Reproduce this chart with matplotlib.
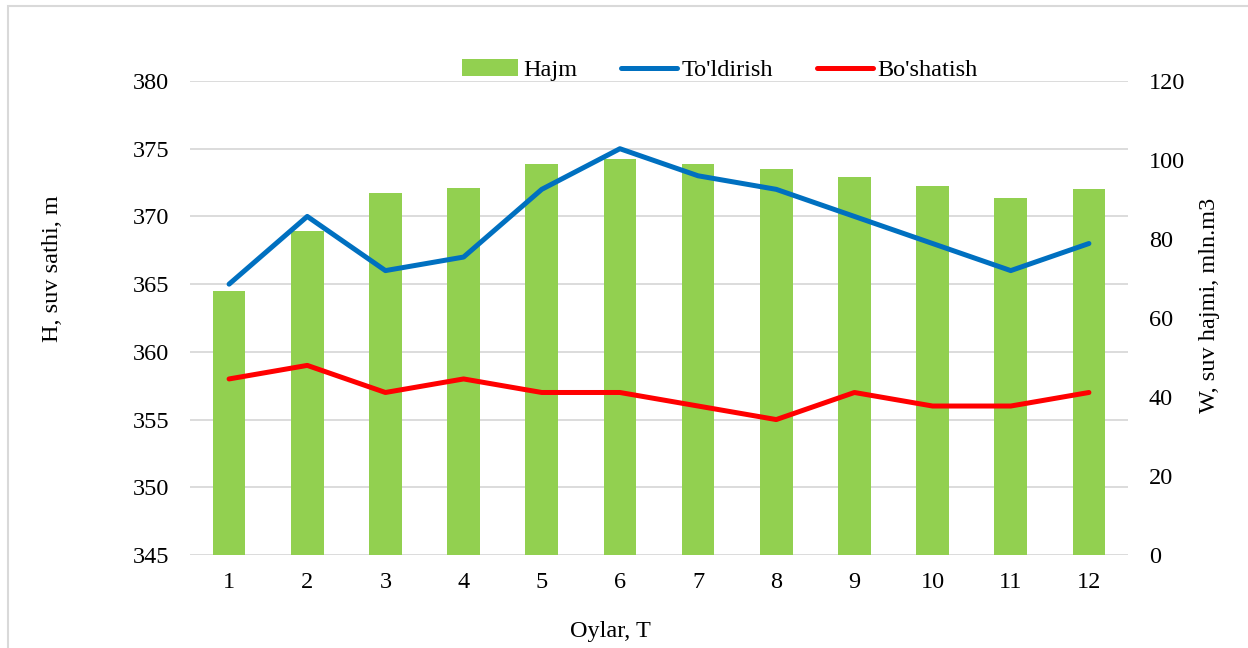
import matplotlib.pyplot as plt
from matplotlib.patches import Rectangle

months = [1, 2, 3, 4, 5, 6, 7, 8, 9, 10, 11, 12]
hajm = [66.9, 82.0, 91.7, 92.9, 99.0, 100.2, 99.0, 97.7, 95.6, 93.4, 90.3, 92.6]
toldirish = [365, 370, 366, 367, 372, 375, 373, 372, 370, 368, 366, 368]
boshatish = [358, 359, 357, 358, 357, 357, 356, 355, 357, 356, 356, 357]
left_ticks = [345, 350, 355, 360, 365, 370, 375, 380]
right_ticks = [0, 20, 40, 60, 80, 100, 120]

plt.rcParams["font.family"] = ["Liberation Serif", "DejaVu Serif"]
fs = 17.5

fig = plt.figure(figsize=(12.48, 6.48), dpi=100)
ax = fig.add_axes([190 / 1248, 1 - 555 / 648, 938 / 1248, 474 / 648])
ax2 = ax.twinx()

# bars on the right axis, drawn behind the lines
ax2.set_zorder(1)
ax.set_zorder(2)
ax.patch.set_visible(False)

bars = ax2.bar(months, hajm, width=0.42, color="#92D050", label="Hajm", zorder=2)
ax2.set_ylim(0, 120)
ax2.set_yticks(right_ticks)

l1, = ax.plot(months, toldirish, color="#0070C0", lw=3.6, solid_capstyle="round",
              solid_joinstyle="round", label="To'ldirish")
l2, = ax.plot(months, boshatish, color="#FF0000", lw=3.6, solid_capstyle="round",
              solid_joinstyle="round", label="Bo'shatish")
ax.set_ylim(345, 380)
ax.set_yticks(left_ticks)
ax.set_xlim(0.5, 12.5)
ax.set_xticks(months)

# gridlines follow the left axis but sit behind the bars
for y in left_ticks:
    ax2.plot([0, 1], [y, y], transform=ax.get_yaxis_transform(),
             color="#D9D9D9", lw=1.3, zorder=0)

for a in (ax, ax2):
    for s in a.spines.values():
        s.set_visible(False)
    a.tick_params(length=0, labelsize=fs, pad=15)
ax.tick_params(axis="x", pad=12)

fig.text(53 / 1248, 1 - 269 / 648, "H, suv sathi, m", rotation=90, ha="center",
         va="center", fontsize=fs)
fig.text(1210 / 1248, 1 - 305 / 648, "W, suv hajmi, mln.m3", rotation=90, ha="center",
         va="center", fontsize=fs)
fig.text(610 / 1248, 1 - 632 / 648, "Oylar, T", ha="center", va="center", fontsize=fs)

fig.legend([bars, l1, l2], ["Hajm", "To'ldirish", "Bo'shatish"], loc="center",
           bbox_to_anchor=(720 / 1248, 1 - 70 / 648), ncol=3, frameon=False,
           fontsize=fs, handlelength=2.3, handletextpad=0.2, columnspacing=1.8,
           borderaxespad=0)

# light chart border (left and top visible)
fig.patches.append(Rectangle((8 / 1248, -0.1), 1.2, 1 - 6 / 648 + 0.1,
                             transform=fig.transFigure, fill=False,
                             edgecolor="#D9D9D9", lw=1.5))

fig.savefig("out.png", dpi=100)
